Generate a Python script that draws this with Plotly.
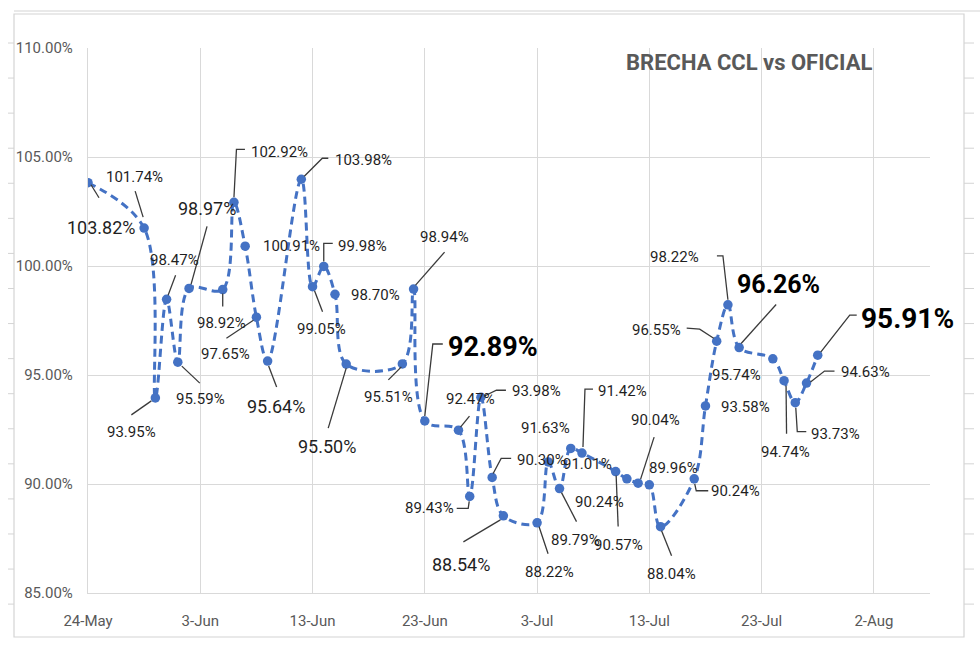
import plotly.graph_objects as go

# ---------------- data ----------------
dates = [
    "2023-05-24", "2023-05-29", "2023-05-30", "2023-05-31",
    "2023-06-01", "2023-06-02", "2023-06-05", "2023-06-06", "2023-06-07",
    "2023-06-08", "2023-06-09", "2023-06-12", "2023-06-13", "2023-06-14",
    "2023-06-15", "2023-06-16", "2023-06-21", "2023-06-22", "2023-06-23",
    "2023-06-26", "2023-06-27", "2023-06-28", "2023-06-29", "2023-06-30",
    "2023-07-03", "2023-07-04", "2023-07-05", "2023-07-06", "2023-07-07",
    "2023-07-10", "2023-07-11", "2023-07-12", "2023-07-13", "2023-07-14",
    "2023-07-17", "2023-07-18", "2023-07-19", "2023-07-20", "2023-07-21",
    "2023-07-24", "2023-07-25", "2023-07-26", "2023-07-27", "2023-07-28",
]
brecha = [
    103.82, 101.74, 93.95, 98.47,
    95.59, 98.97, 98.92, 102.92, 100.91,
    97.65, 95.64, 103.98, 99.05, 99.98,
    98.70, 95.50, 95.51, 98.94, 92.89,
    92.47, 89.43, 93.98, 90.30, 88.54,
    88.22, 91.01, 89.79, 91.63, 91.42,
    90.57, 90.24, 90.04, 89.96, 88.04,
    90.24, 93.58, 96.55, 98.22, 96.26,
    95.74, 94.74, 93.73, 94.63, 95.91,
]
x_ticks_start = "2023-05-24"
x_range = ["2023-05-24", "2023-08-07"]
y_range = [85, 110]
title_text = "BRECHA CCL vs OFICIAL"

# ---------------- label placement (pixel offsets, screen-down y) ----------------
# (dx, dy, style, leader polyline as list of (dx, dy))
label_place = [
    (13, 45, "m", [(3, 2), (11, 15)]),
    (-10, -51, "n", [(-9, -37), (-1, -11)]),
    (-24, 34, "n", [(-24, 17), (-4, 3)]),
    (8, -39, "n", [(9, -24), (1.5, -4)]),
    (23, 37, "n", [(4, 4), (22, 21)]),
    (18, -80, "m", [(18, -62), (2, -4)]),
    (-1.5, 33, "n", [(0, 4), (0, 17)]),
    (46, -50, "n", [(11, -53), (2.5, -53), (0, -5)]),
    (46, 0, "n", None),
    (-31, 37, "n", [(-30, 21), (-3, 3)]),
    (8, 45, "m", [(1, 5), (9, 26)]),
    (62, -19, "n", [(27, -21), (21, -21), (3, -3)]),
    (9, 42, "n", [(2, 4), (10, 25)]),
    (39, -20, "n", [(9, -23), (0, -23), (0, -5)]),
    (41, 1, "n", None),
    (-19.5, 82, "m", [(0, 4), (-18, 64)]),
    (-14, 33, "n", [(-14, 16), (-1, 3)]),
    (31, -52, "n", [(31, -37), (2, -4)]),
    (68, -74, "b27", [(18, -77), (8, -77), (0, -5)]),
    (12, -31, "n", [(11, -14), (2, -3)]),
    (-40, 12, "n", [(-13, 12), (-1.5, 12), (-0.5, 5)]),
    (56, -6, "n", [(25, -7), (15.5, -7), (3, -1)]),
    (49, -17, "n", [(19, -19), (9, -19), (1, -4)]),
    (-42, 49, "m", [(-40, 26), (-3, 4)]),
    (12, 49, "n", [(2, 4), (11, 31)]),
    (39.5, 2, "n", None),
    (16, 51, "n", [(2, 4), (17, 33)]),
    (-25, -20, "n", None),
    (41, -62, "n", [(11, -64), (3, -64), (1, -6)]),
    (2.5, 73, "n", [(0.5, 4), (2.5, 55)]),
    (-27, 23, "n", None),
    (17, -63, "n", [(16, -46), (2.5, -4)]),
    (24, -17, "n", None),
    (11, 47, "n", [(1, 4), (11, 29)]),
    (41, 12, "n", [(14, 12), (2, 12), (0.5, 5)]),
    (40, 1, "n", None),
    (-60, -11, "n", [(-30, -13), (-17, -12), (-3, -3)]),
    (-53, -48, "n", [(-11, -49), (-5, -49), (0, -5)]),
    (39, -63.5, "b25", [(37, -43), (2, -4)]),
    (-36, 16, "n", None),
    (1.6, 71, "n", [(2, 5), (2.5, 53)]),
    (40, 31, "n", [(11, 29), (2, 29), (0.5, 5)]),
    (59, -11, "n", [(28, -12), (18, -12), (4, -1)]),
    (90, -37, "b28", [(39, -40), (32, -40), (3, -3)]),
]

FONT = "Roboto, Liberation Sans, sans-serif"
BLUE = "#4472C4"
GRID = "#d9d9d9"
LABEL_COLOR = "#1f1f1f"
LEADER_COLOR = "#3a3a3a"

W, H = 980, 652
ML, MR, MT, MB = 88, 50, 48, 59
PW, PH = W - ML - MR, H - MT - MB


def px2paper_x(px):
    return (px - ML) / PW


def px2paper_y(py):
    return (H - MB - py) / PH


fig = go.Figure()
fig.add_trace(go.Scatter(
    x=dates, y=brecha, mode="lines+markers",
    line=dict(color=BLUE, width=3, dash="8px,5px", shape="spline", smoothing=1.0),
    marker=dict(color=BLUE, size=9.5),
    hoverinfo="x+y", showlegend=False,
))

annotations = []
shapes = []
for d, v, (dx, dy, style, leader) in zip(dates, brecha, label_place):
    txt = f"{v:.2f}%"
    if style == "n":
        font = dict(family=FONT, size=15, color=LABEL_COLOR)
    elif style == "m":
        font = dict(family=FONT, size=18, color=LABEL_COLOR)
    else:
        font = dict(family=FONT, size=int(style[1:]), color="#000000")
        txt = f"<b>{txt}</b>"
    annotations.append(dict(
        x=d, y=v, xref="x", yref="y", text=txt, showarrow=False,
        xshift=dx, yshift=-dy, xanchor="center", yanchor="middle", font=font,
    ))
    if leader:
        path = "M " + " L ".join(f"{px},{-py}" for px, py in leader)
        shapes.append(dict(
            type="path", xref="x", yref="y", xsizemode="pixel", ysizemode="pixel",
            xanchor=d, yanchor=v, path=path,
            line=dict(color=LEADER_COLOR, width=1.3), layer="above",
        ))

# title
annotations.append(dict(
    xref="paper", yref="paper", x=px2paper_x(749), y=px2paper_y(63),
    text=f"<b>{title_text}</b>", showarrow=False, xanchor="center", yanchor="middle",
    font=dict(family=FONT, size=22, color="#595959"),
))

# outer chart frame (worksheet screenshot look)
FRAME = "#d4d4d4"
shapes.append(dict(type="rect", xref="paper", yref="paper",
                   x0=px2paper_x(14), x1=px2paper_x(964),
                   y0=px2paper_y(637), y1=px2paper_y(14),
                   line=dict(color=FRAME, width=1.2), layer="below"))
shapes.append(dict(type="line", xref="paper", yref="paper",
                   x0=px2paper_x(14), x1=px2paper_x(980),
                   y0=px2paper_y(11), y1=px2paper_y(11),
                   line=dict(color=FRAME, width=1.2), layer="below"))
for k in range(17):
    yy = 43 + 35.07 * k
    if yy < 14 or yy > 637:
        continue
    shapes.append(dict(type="line", xref="paper", yref="paper",
                       x0=px2paper_x(8), x1=px2paper_x(14),
                       y0=px2paper_y(yy), y1=px2paper_y(yy),
                       line=dict(color=FRAME, width=1), layer="below"))
    shapes.append(dict(type="line", xref="paper", yref="paper",
                       x0=px2paper_x(964), x1=px2paper_x(974),
                       y0=px2paper_y(yy), y1=px2paper_y(yy),
                       line=dict(color=FRAME, width=1), layer="below"))

fig.update_layout(
    width=W, height=H,
    margin=dict(l=ML, r=MR, t=MT, b=MB, autoexpand=False),
    paper_bgcolor="white", plot_bgcolor="white",
    annotations=annotations, shapes=shapes,
    xaxis=dict(
        type="date", range=x_range, tick0=x_ticks_start, dtick=864000000,
        tickformat="%-d-%b", showgrid=True, gridcolor=GRID, gridwidth=1,
        showline=True, linecolor=GRID, linewidth=1.3, ticks="", zeroline=False,
        tickfont=dict(family=FONT, size=15, color="#595959"),
        ticklabelstandoff=14, automargin=False,
    ),
    yaxis=dict(
        range=y_range, dtick=5, tickformat=".2f", ticksuffix="%",
        showgrid=True, gridcolor=GRID, gridwidth=1,
        showline=True, linecolor=GRID, linewidth=1.3, ticks="", zeroline=False,
        tickfont=dict(family=FONT, size=15, color="#595959"),
        ticklabelstandoff=11, automargin=False,
    ),
)

fig.write_html("out.html", config={"displayModeBar": False},
               post_script="document.body.style.margin='0px';")
